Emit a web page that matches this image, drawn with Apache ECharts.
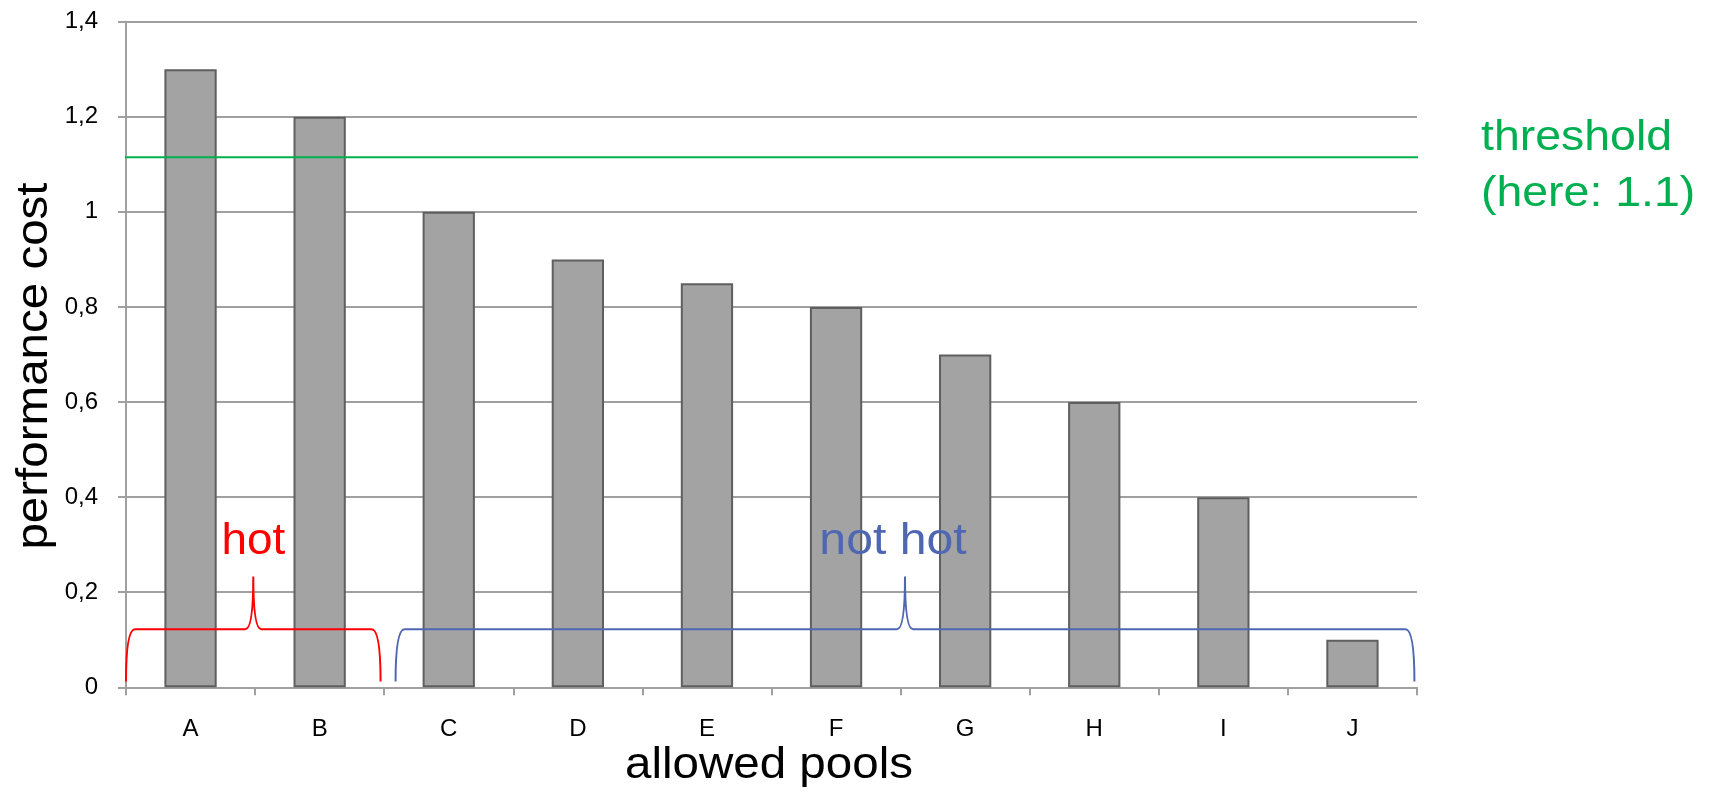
<!DOCTYPE html>
<html>
<head>
<meta charset="utf-8">
<script src="https://cdn.jsdelivr.net/npm/echarts@6/dist/echarts.min.js"></script>
<style>
html,body{margin:0;padding:0;background:#fff;}
#chart{width:1710px;height:792px;}
</style>
</head>
<body>
<div id="chart"></div>
<script>
// ---- data ----
const categories = ['A', 'B', 'C', 'D', 'E', 'F', 'G', 'H', 'I', 'J'];
const costValues = [1.3, 1.2, 1.0, 0.9, 0.85, 0.8, 0.7, 0.6, 0.4, 0.1];
const thresholdValue = 1.115;
const thresholdText = ['threshold', '(here: 1.1)'];
const xAxisTitle = 'allowed pools';
const yAxisTitle = 'performance cost';
const groupNames = ['hot', 'not hot'];
const groupFirst = [0, 2];   // first category index of each group
const groupLast = [1, 9];    // last category index of each group
const bracketLevels = [0.012, 0.122, 0.233]; // end, bar, peak (value units)

// ---- layout / style ----
const FONT = '"Liberation Sans", Arial, sans-serif';
const groupColors = ['#ff0000', '#4f67b3'];
const insetL = [0.0, 0.088];
const insetR = [0.028, 0.02];
const labelDx = [0, -12];
const labelScale = [1.02, 1.07];
const GREEN = '#00b050';
const AXIS_GRAY = '#a0a0a0';

const chart = echarts.init(document.getElementById('chart'));
const option = {
  animation: false,
  backgroundColor: '#fff',
  grid: { left: 126, right: 293, top: 21.7, bottom: 104.7 },
  xAxis: [
    {
      type: 'category',
      data: categories,
      boundaryGap: true,
      axisLine: { show: true, lineStyle: { color: AXIS_GRAY, width: 2 } },
      axisTick: { show: true, length: 8, lineStyle: { color: AXIS_GRAY, width: 2 } },
      axisLabel: { color: '#000', fontFamily: FONT, fontSize: 24, margin: 30 }
    },
    { type: 'value', min: 0, max: 10, show: false, gridIndex: 0 }
  ],
  yAxis: {
    type: 'value',
    min: 0, max: 1.4, interval: 0.2,
    axisLine: { show: true, lineStyle: { color: AXIS_GRAY, width: 2 } },
    axisTick: { show: true, length: 8, lineStyle: { color: AXIS_GRAY, width: 2 } },
    splitLine: { show: true, lineStyle: { color: AXIS_GRAY, width: 2 } },
    axisLabel: {
      color: '#000', fontFamily: FONT, fontSize: 24, margin: 28,
      formatter: v => String(+v.toFixed(1)).replace('.', ',')
    }
  },
  series: [
    {
      type: 'bar',
      data: costValues,
      barWidth: '40.5%',
      itemStyle: { color: '#a3a3a3', borderColor: '#5f5f5f', borderWidth: 2 },
      silent: true
    },
    {
      type: 'line',
      xAxisIndex: 1,
      data: [[-0.224, thresholdValue], [10.21, thresholdValue]],
      clip: false,
      symbol: 'none',
      silent: true,
      lineStyle: { color: GREEN, width: 2 },
      z: 5
    },
    {
      type: 'custom',
      xAxisIndex: 1,
      clip: false,
      silent: true,
      z: 6,
      data: groupNames.map((n, i) => [groupFirst[i], groupLast[i], i]),
      renderItem: function (params, api) {
        const i = api.value(2);
        const x0 = api.value(0) + insetL[i];
        const x1 = api.value(1) + 1 - insetR[i];
        const pA = api.coord([x0, bracketLevels[0]]);
        const pB = api.coord([x1, bracketLevels[0]]);
        const yB = api.coord([x0, bracketLevels[1]])[1];
        const yP = api.coord([x0, bracketLevels[2]])[1];
        const ax = pA[0], bx = pB[0], yE = pA[1];
        const xm = (ax + bx) / 2, r = 9, pw = 8;
        const d = 'M' + ax + ' ' + yE +
          ' Q' + ax + ' ' + yB + ' ' + (ax + r) + ' ' + yB +
          ' L' + (xm - pw) + ' ' + yB +
          ' Q' + xm + ' ' + yB + ' ' + xm + ' ' + yP +
          ' Q' + xm + ' ' + yB + ' ' + (xm + pw) + ' ' + yB +
          ' L' + (bx - r) + ' ' + yB +
          ' Q' + bx + ' ' + yB + ' ' + bx + ' ' + yE;
        const color = groupColors[i];
        return {
          type: 'group',
          children: [
            {
              type: 'path',
              shape: { pathData: d, x: ax, y: yP, width: bx - ax, height: yE - yP, layout: 'cover' },
              style: { fill: 'none', stroke: color, lineWidth: 2 }
            },
            {
              type: 'text',
              x: xm + labelDx[i],
              y: yP - 12,
              scaleX: labelScale[i],
              style: {
                text: groupNames[i], fill: color,
                fontFamily: FONT, fontSize: 45,
                align: 'center', verticalAlign: 'bottom'
              }
            }
          ]
        };
      }
    }
  ],
  graphic: [
    {
      type: 'text', x: 1481, y: 138.5, scaleX: 1.08, silent: true,
      style: { text: thresholdText[0], fill: GREEN, fontFamily: FONT, fontSize: 43, align: 'left', verticalAlign: 'middle' }
    },
    {
      type: 'text', x: 1481, y: 194, scaleX: 1.08, silent: true,
      style: { text: thresholdText[1], fill: GREEN, fontFamily: FONT, fontSize: 43, align: 'left', verticalAlign: 'middle' }
    },
    {
      type: 'text', x: 769, y: 766, scaleX: 1.08, silent: true,
      style: { text: xAxisTitle, fill: '#000', fontFamily: FONT, fontSize: 44, align: 'center', verticalAlign: 'middle' }
    },
    {
      type: 'text', x: 35, y: 366, rotation: Math.PI / 2, scaleX: 1.08, silent: true,
      style: { text: yAxisTitle, fill: '#000', fontFamily: FONT, fontSize: 44, align: 'center', verticalAlign: 'middle' }
    }
  ]
};
chart.setOption(option);
</script>
</body>
</html>
